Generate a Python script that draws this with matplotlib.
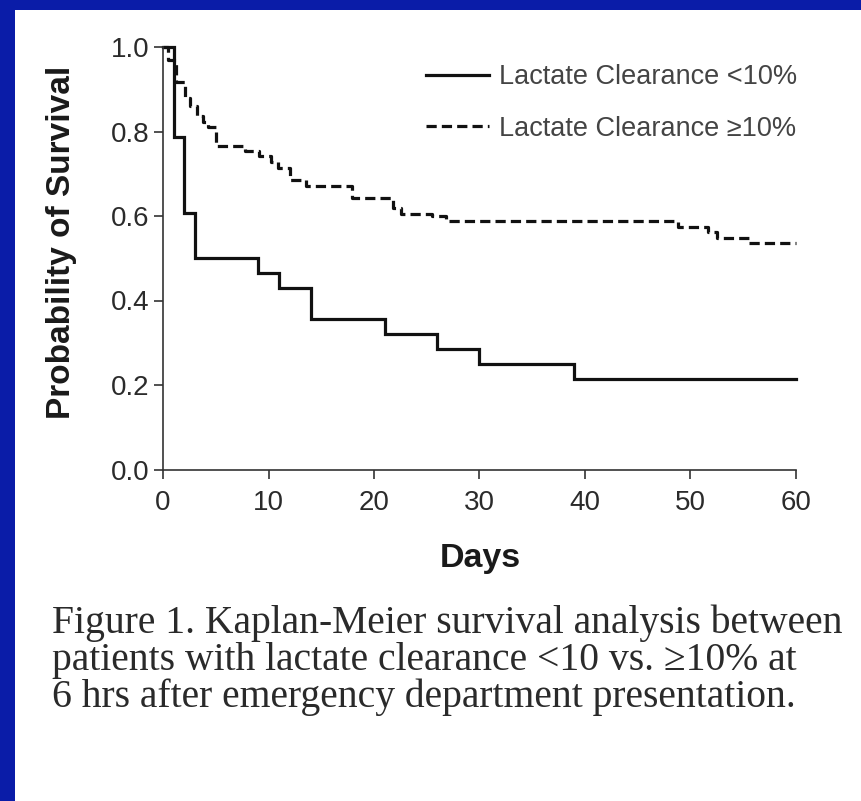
import matplotlib
matplotlib.use('Agg')

import matplotlib.pyplot as plt
from matplotlib.patches import Rectangle

# Kaplan-Meier steps (days, survival probability)
low_days = [0, 1, 2, 3, 9, 11, 14, 21, 26, 30, 39, 60]
low_surv = [1.0, 0.786, 0.607, 0.5, 0.464, 0.429, 0.357, 0.321, 0.286, 0.25, 0.214, 0.214]

high_days = [0, 0.5, 1.2, 2.1, 2.6, 3.2, 3.8, 4.3, 5.0, 7.8, 9.1, 10.2, 10.9, 12.0, 13.6,
             17.9, 21.8, 22.6, 25.5, 26.8, 48.8, 51.7, 52.5, 55.5, 60]
high_surv = [1.0, 0.97, 0.918, 0.88, 0.86, 0.837, 0.823, 0.81, 0.766, 0.755, 0.742, 0.728,
             0.713, 0.685, 0.671, 0.642, 0.618, 0.605, 0.6, 0.587, 0.575, 0.563, 0.547,
             0.535, 0.535]

series_labels = ['Lactate Clearance <10%', 'Lactate Clearance \u226510%']
x_ticks = [0, 10, 20, 30, 40, 50, 60]
y_ticks = [0.0, 0.2, 0.4, 0.6, 0.8, 1.0]

caption = ['Figure 1. Kaplan-Meier survival analysis between',
           'patients with lactate clearance <10 vs. \u226510% at',
           '6 hrs after emergency department presentation.']

W, H, DPI = 862, 801, 100
SANS = ['Liberation Sans', 'DejaVu Sans']
SERIF = ['Liberation Serif', 'DejaVu Serif']
BLUE = '#0A1CA8'

fig = plt.figure(figsize=(W / DPI, H / DPI), dpi=DPI, facecolor='white')

# blue slide frame on top and left
fig.add_artist(Rectangle((0, 0), 15 / W, 1, transform=fig.transFigure,
                         facecolor=BLUE, edgecolor='none'))
fig.add_artist(Rectangle((0, 1 - 10 / H), 1, 10 / H, transform=fig.transFigure,
                         facecolor=BLUE, edgecolor='none'))

# axes box in pixels: x 163..796, y 47..469.5 (from top)
ax = fig.add_axes([163 / W, (H - 469.5) / H, 633 / W, 422.5 / H])

ax.step(low_days, low_surv, where='post', color='#111111', lw=2.3,
        label=series_labels[0], clip_on=False, solid_joinstyle='miter')
ax.step(high_days, high_surv, where='post', color='#111111', lw=2.3,
        linestyle=(0, (3.2, 1.6)), label=series_labels[1], clip_on=False)

ax.set_xlim(0, 60)
ax.set_ylim(0, 1.0)
ax.set_xticks(x_ticks)
ax.set_yticks(y_ticks)
ax.set_xticklabels([str(t) for t in x_ticks])
ax.set_yticklabels(['%.1f' % t for t in y_ticks])

for s in ['top', 'right']:
    ax.spines[s].set_visible(False)
for s in ['left', 'bottom']:
    ax.spines[s].set_color('#333333')
    ax.spines[s].set_linewidth(1.2)

ax.tick_params(axis='both', direction='out', length=6.5, width=1.2, color='#333333',
               labelcolor='#2b2b2b', labelsize=20)
ax.tick_params(axis='x', pad=8)
ax.tick_params(axis='y', pad=3)
for lab in ax.get_xticklabels() + ax.get_yticklabels():
    lab.set_family(SANS)

leg = ax.legend(loc='upper right', bbox_to_anchor=(797 / W, (H - 64) / H),
                bbox_transform=fig.transFigure, frameon=False, borderpad=0,
                borderaxespad=0, handlelength=2.3, handletextpad=0.38,
                labelspacing=0.95, prop={'family': SANS, 'size': 19.5})
for t in leg.get_texts():
    t.set_color('#444444')

fig.text(62 / W, (H - 242) / H, 'Probability of Survival', rotation=90,
         ha='center', va='center', fontsize=24, fontweight='bold',
         family=SANS, color='#1a1a1a')
fig.text(480 / W, (H - 558) / H, 'Days', ha='center', va='center',
         fontsize=24.5, fontweight='bold', family=SANS, color='#1a1a1a')

# caption, sized so that the first line spans about 52..843 px
renderer = fig.canvas.get_renderer()
probe = fig.text(0, 0, caption[0], fontsize=26, family=SERIF)
w = probe.get_window_extent(renderer).width
probe.remove()
cap_size = 26 * 791 / w

baselines = [633, 670, 707]
for line, yb in zip(caption, baselines):
    fig.text(52 / W, (H - yb) / H, line, ha='left', va='baseline',
             fontsize=cap_size, family=SERIF, color='#2a2a2a')

fig.savefig('out.png', dpi=DPI, facecolor='white')
